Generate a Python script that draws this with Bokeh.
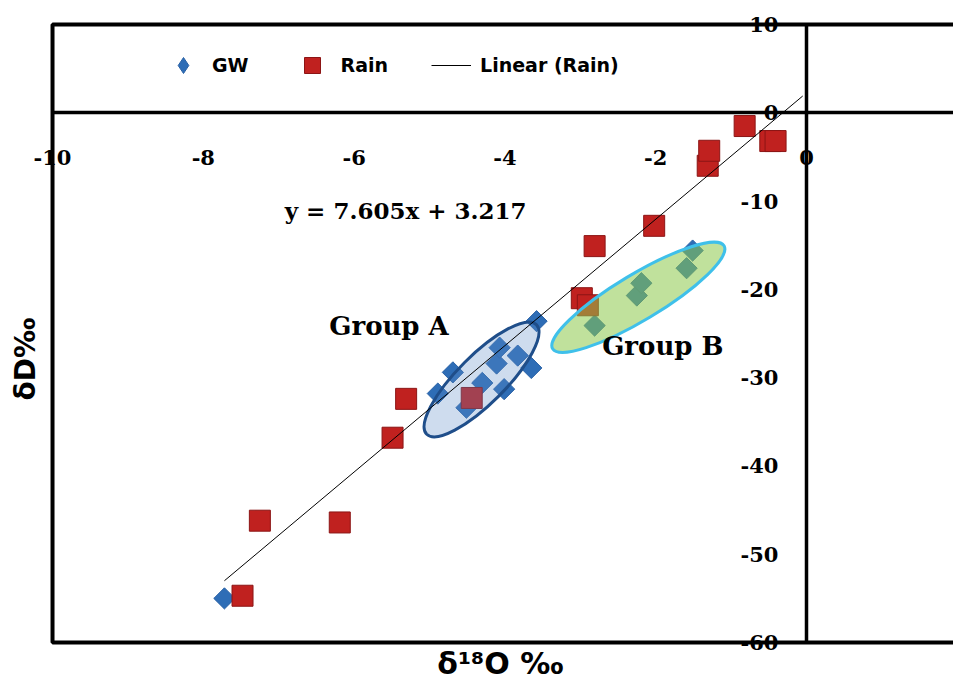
import numpy as np
from bokeh.plotting import figure
from bokeh.models import (LinearAxis, FixedTicker, BoxAnnotation, Label, Legend,
                          LegendItem, Range1d)
from bokeh.embed import file_html
from bokeh.resources import INLINE

# ---- data ----
gw_x = [-7.72, -4.89, -4.69, -4.51, -4.30, -4.11, -4.07, -4.01, -3.83, -3.65, -3.58,
        -2.81, -2.25, -2.19, -1.59, -1.51]
gw_y = [-55.0, -31.8, -29.4, -33.4, -30.6, -28.4, -26.6, -31.3, -27.5, -28.9, -23.6,
        -24.1, -20.7, -19.3, -17.6, -15.6]
rain_x = [-7.48, -7.25, -6.19, -5.49, -5.31, -4.44, -2.98, -2.90, -2.81, -2.02,
          -1.31, -1.29, -0.82, -0.48, -0.41]
rain_y = [-54.7, -46.2, -46.4, -36.8, -32.4, -32.3, -21.0, -21.8, -15.1, -12.8,
          -6.0, -4.3, -1.5, -3.2, -3.2]
# trend line of the Rain series as drawn in the picture (start / end)
trend_x = [-7.72, -0.05]
trend_y = [-53.0, 1.9]

x_ticks = [-10, -8, -6, -4, -2, 0, 2]
y_ticks = [-60, -50, -40, -30, -20, -10, 0, 10]
x_min, x_max = -10, 1.95   # plotted box (right side runs off the picture)
y_min, y_max = -60, 10

group_names = ["Group A", "Group B"]
group_cx = [-4.31, -2.23]
group_cy = [-30.2, -20.9]
group_label_x = [-6.33, -2.71]
group_label_y = [-24.1, -26.4]

equation = "y = 7.605x + 3.217"
eq_x, eq_y = -6.92, -11.1

x_title = "δ¹⁸O ‰"
y_title = "δD‰"

# ---- figure (frame fills the canvas; box drawn as annotation) ----
p = figure(width=953, height=680, x_range=Range1d(-10.69, x_max),
           y_range=Range1d(-64.3, 12.72),
           output_backend="svg", toolbar_location=None,
           x_axis_location=None, y_axis_location=None,
           min_border_left=0, min_border_top=0, min_border_right=0, min_border_bottom=0)
p.xgrid.visible = False
p.ygrid.visible = False
p.outline_line_color = None
p.background_fill_color = "white"

def style_axis(ax, standoff, ticks):
    ax.axis_line_width = 3.5
    ax.axis_line_color = "black"
    ax.major_tick_in = 0
    ax.major_tick_out = 0
    ax.minor_tick_in = 0
    ax.minor_tick_out = 0
    ax.major_label_standoff = standoff
    ax.major_label_text_font = "DejaVu Serif"
    ax.major_label_text_font_style = "bold"
    ax.major_label_text_font_size = "21px"
    ax.major_label_text_color = "black"
    ax.major_label_overrides = {t: str(t) for t in ticks}

xaxis = LinearAxis(fixed_location=0, ticker=FixedTicker(ticks=x_ticks),
                   bounds=(x_min, x_max))
style_axis(xaxis, 37, x_ticks)
p.add_layout(xaxis, "below")
yaxis = LinearAxis(fixed_location=0, ticker=FixedTicker(ticks=y_ticks),
                   bounds=(y_min, y_max))
style_axis(yaxis, 28, y_ticks)
p.add_layout(yaxis, "left")

# plot box (left, top, bottom edges)
p.add_layout(BoxAnnotation(left=x_min, right=x_max + 1, bottom=y_min, top=y_max,
                           fill_alpha=0, line_color="black", line_width=4,
                           line_alpha=1))

# ---- glyphs ----
gw = p.scatter(gw_x, gw_y, marker="square", angle=np.pi / 4, size=15,
               fill_color="#2e6db6", line_color="#2a62a6")
rain = p.scatter(rain_x, rain_y, marker="square", size=21,
                 fill_color="#c0211f", line_color="#8c1515")
# legend swatch for GW (diamond); its single point is NaN so nothing is plotted
gw_key = p.scatter(x=[float("nan")], y=[float("nan")], marker="diamond", size=15,
                   fill_color="#2e6db6", line_color="#2a62a6")

# group ellipses
p.ellipse(x=[group_cx[0]], y=[group_cy[0]], width=155, height=48, angle=np.deg2rad(45),
          width_units="screen", height_units="screen",
          fill_color="#5c8ac6", fill_alpha=0.3, line_color="#1f4e8a", line_width=3)
p.ellipse(x=[group_cx[1]], y=[group_cy[1]], width=200, height=46, angle=np.deg2rad(31),
          width_units="screen", height_units="screen",
          fill_color="#8cc84b", fill_alpha=0.55, line_color="#3fc0ea", line_width=3)

trend = p.line(trend_x, trend_y, line_color="black", line_width=1)

# ---- texts ----
p.add_layout(Label(x=eq_x, y=eq_y, text=equation, text_font="DejaVu Serif",
                   text_font_style="bold", text_font_size="23px", text_baseline="middle",
                   text_color="black"))
for name, lx, ly in zip(group_names, group_label_x, group_label_y):
    p.add_layout(Label(x=lx, y=ly, text=name, text_font="DejaVu Serif",
                       text_font_style="bold", text_font_size="26px",
                       text_baseline="middle", text_color="black"))

p.add_layout(Label(x=-4.06, y=-62.4, text=x_title, text_font="DejaVu Sans",
                   text_font_size="30px", text_font_style="bold", text_color="black",
                   text_align="center", text_baseline="middle"))
p.add_layout(Label(x=-10.36, y=-27.9, text=y_title, text_font="DejaVu Sans",
                   text_font_size="28px", text_font_style="bold", text_color="black",
                   text_align="center", text_baseline="middle", angle=np.pi / 2))

legend = Legend(items=[LegendItem(label="GW", renderers=[gw_key]),
                       LegendItem(label="Rain", renderers=[rain]),
                       LegendItem(label="Linear (Rain)", renderers=[trend])],
                orientation="horizontal", location=(163, 595), padding=0,
                spacing=43, glyph_width=40, glyph_height=40, label_standoff=9,
                label_text_font="DejaVu Sans", label_text_font_style="bold",
                label_text_font_size="19px", label_text_color="black",
                border_line_color=None, background_fill_alpha=0)
p.add_layout(legend, "center")

open("out.html", "w").write(file_html(p, INLINE))
